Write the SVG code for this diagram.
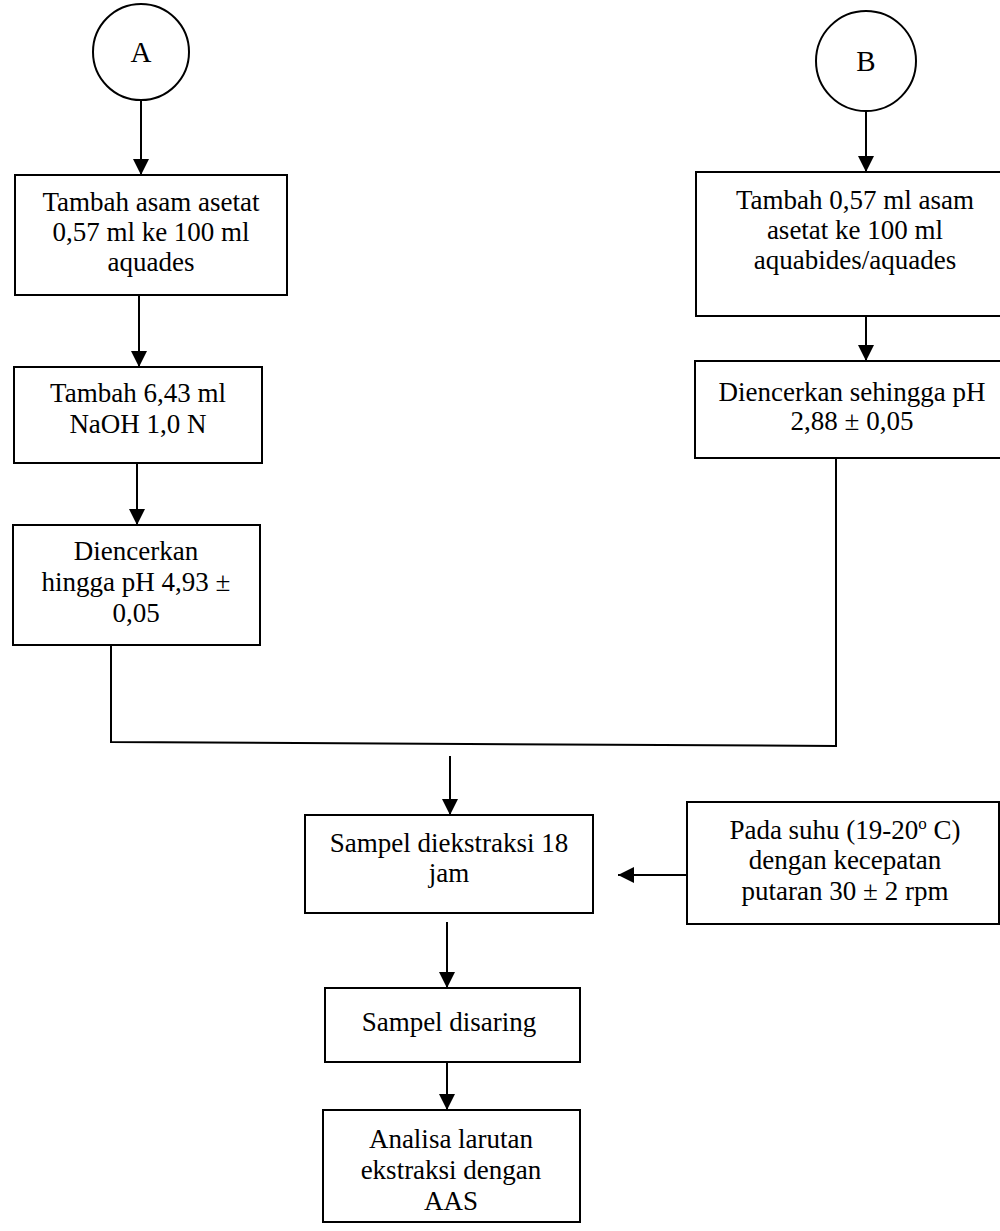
<svg xmlns="http://www.w3.org/2000/svg" width="1000" height="1231" viewBox="0 0 1000 1231">
<defs>
<style>
.box{fill:#fff;stroke:#000;stroke-width:2}
.con{fill:none;stroke:#000;stroke-width:2}
text{font-family:"Liberation Serif","Times New Roman",serif;font-size:27px;fill:#000;text-anchor:middle}
.lbl{font-size:29px}
</style>
<marker id="ah" markerUnits="userSpaceOnUse" markerWidth="16" markerHeight="18" refX="16" refY="8" orient="auto">
<path d="M0,0 L16,8 L0,16 Z" fill="#000"/>
</marker>
</defs>
<rect width="1000" height="1231" fill="#fff"/>
<g id="connectors">
<line class="con" x1="141" y1="101" x2="141" y2="175" marker-end="url(#ah)"/>
<line class="con" x1="139" y1="295" x2="139" y2="367" marker-end="url(#ah)"/>
<line class="con" x1="137" y1="463" x2="137" y2="525" marker-end="url(#ah)"/>
<line class="con" x1="866" y1="111" x2="866" y2="172" marker-end="url(#ah)"/>
<line class="con" x1="866" y1="316" x2="866" y2="361" marker-end="url(#ah)"/>
<polyline class="con" points="111,645 111,742 836,746 836,458"/>
<line class="con" x1="450" y1="756" x2="450" y2="815" marker-end="url(#ah)"/>
<line class="con" x1="687" y1="875" x2="618" y2="875" marker-end="url(#ah)"/>
<line class="con" x1="447" y1="922" x2="447" y2="988" marker-end="url(#ah)"/>
<line class="con" x1="447" y1="1062" x2="447" y2="1110" marker-end="url(#ah)"/>
</g>
<g id="nodeA">
<circle class="box" cx="141" cy="52" r="48"/>
<text class="lbl" x="141" y="62">A</text>
</g>
<g id="nodeB">
<circle class="box" cx="866" cy="61" r="50"/>
<text class="lbl" x="866" y="71">B</text>
</g>
<g id="a1">
<rect class="box" x="15" y="175" width="272" height="120"/>
<text x="151" y="211">Tambah asam asetat</text>
<text x="151" y="241">0,57 ml ke 100 ml</text>
<text x="151" y="271">aquades</text>
</g>
<g id="a2">
<rect class="box" x="14" y="367" width="248" height="96"/>
<text x="138" y="402">Tambah 6,43 ml</text>
<text x="138" y="433">NaOH 1,0 N</text>
</g>
<g id="a3">
<rect class="box" x="13" y="525" width="247" height="120"/>
<text x="136" y="560">Diencerkan</text>
<text x="136" y="591">hingga pH 4,93 ±</text>
<text x="136" y="622">0,05</text>
</g>
<g id="b1">
<rect class="box" x="696" y="172" width="310" height="144"/>
<text x="855" y="209">Tambah 0,57 ml asam</text>
<text x="855" y="239">asetat ke 100 ml</text>
<text x="855" y="269">aquabides/aquades</text>
</g>
<g id="b2">
<rect class="box" x="695" y="361" width="311" height="97"/>
<text x="852" y="401">Diencerkan sehingga pH</text>
<text x="852" y="430">2,88 ± 0,05</text>
</g>
<g id="ekstraksi">
<rect class="box" x="305" y="815" width="288" height="98"/>
<text x="449" y="852">Sampel diekstraksi 18</text>
<text x="449" y="882">jam</text>
</g>
<g id="kondisi">
<rect class="box" x="687" y="802" width="312" height="122"/>
<text x="845" y="839">Pada suhu (19-20<tspan dy="-10" font-size="17">o</tspan><tspan dy="10"> C)</tspan></text>
<text x="845" y="869">dengan kecepatan</text>
<text x="845" y="900">putaran 30 ± 2 rpm</text>
</g>
<g id="saring">
<rect class="box" x="325" y="988" width="255" height="74"/>
<text x="449" y="1031">Sampel disaring</text>
</g>
<g id="analisa">
<rect class="box" x="323" y="1110" width="257" height="112"/>
<text x="451" y="1148">Analisa larutan</text>
<text x="451" y="1179">ekstraksi dengan</text>
<text x="451" y="1210">AAS</text>
</g>
</svg>
